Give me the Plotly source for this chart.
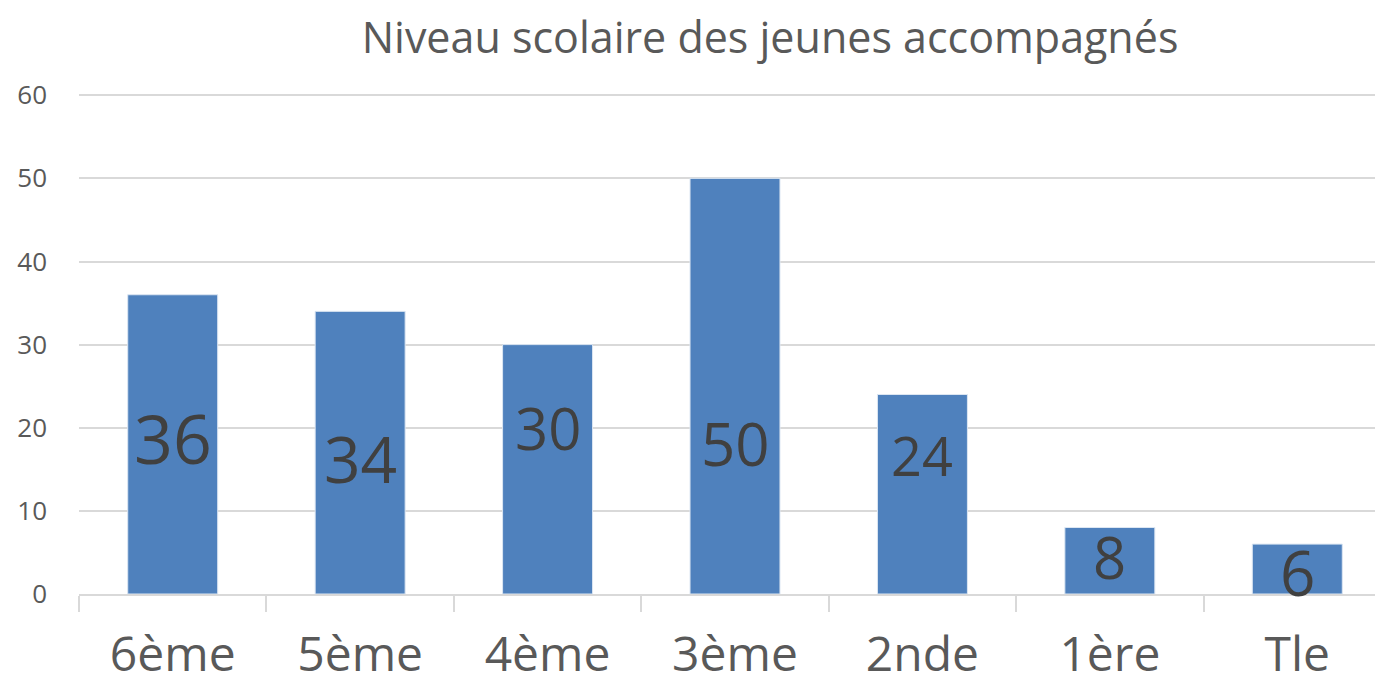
import plotly.graph_objects as go

# données
niveaux = ['6ème', '5ème', '4ème', '3ème', '2nde', '1ère', 'Tle']
effectifs = [36, 34, 30, 50, 24, 8, 6]

# placement des étiquettes (déplacées à la main dans l'original)
label_y = [18.8, 16.3, 20.0, 18.2, 16.7, 4.5, 2.6]
label_size = [68, 64, 58, 60, 54, 58, 62]

fig = go.Figure()
fig.add_trace(go.Bar(
    x=niveaux, y=effectifs,
    marker=dict(color='#4F81BD', line=dict(color='#DCE6F2', width=1)),
    width=0.48,
    hoverinfo='x+y',
))

for cat, val, ly, sz in zip(niveaux, effectifs, label_y, label_size):
    fig.add_annotation(x=cat, y=ly, text=str(val), showarrow=False,
                       xanchor='center', yanchor='middle',
                       font=dict(size=sz, color='#404040', family='Open Sans'))

# la page ajoute 8px de marge autour de la figure : on compense ici
fig.update_layout(
    title=dict(text='Niveau scolaire des jeunes accompagnés',
               x=0.551, xanchor='center', xref='container',
               y=0.957, yanchor='middle', yref='container',
               font=dict(size=43, color='#595959', family='Open Sans')),
    width=1383, height=688,
    margin=dict(l=71, r=0, t=86, b=102),
    plot_bgcolor='white', paper_bgcolor='white',
    showlegend=False,
    font=dict(family='Open Sans', color='#595959'),
)

fig.update_yaxes(range=[0, 60.15], tickvals=[0, 10, 20, 30, 40, 50, 60],
                 showgrid=True, gridcolor='#D9D9D9',
                 gridwidth=1.5, zeroline=False, showline=False, ticks='',
                 tickfont=dict(size=26, color='#595959'), ticklabelstandoff=31,
                 automargin=False)

fig.update_xaxes(showline=True, linecolor='#D9D9D9', linewidth=1.5,
                 ticks='outside', tickson='boundaries', ticklen=16,
                 tickcolor='#D9D9D9', tickwidth=1.5,
                 tickfont=dict(size=48, color='#595959'), ticklabelstandoff=18,
                 automargin=False)

fig.write_html('out.html')
